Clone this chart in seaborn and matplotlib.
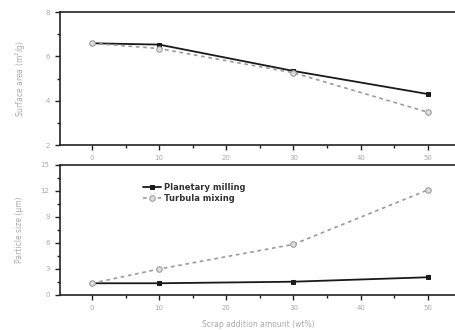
import matplotlib
matplotlib.use("Agg")
import matplotlib.pyplot as plt
import seaborn as sns
import pandas as pd
from matplotlib.ticker import MultipleLocator

sns.set_style("white")
plt.rcParams['font.family'] = ['DejaVu Sans']

scrap = [0, 10, 30, 50]
area_planetary = [6.59, 6.53, 5.34, 4.30]
area_turbula = [6.59, 6.35, 5.26, 3.48]
size_planetary = [1.35, 1.35, 1.53, 2.04]
size_turbula = [1.35, 2.99, 5.83, 12.09]
labels = ["Planetary milling", "Turbula mixing"]

fig = plt.figure(figsize=(4.56, 3.30), dpi=100)
ax1 = fig.add_axes([0.1316, 0.5606, 0.8684, 0.403])
ax2 = fig.add_axes([0.1316, 0.1061, 0.8684, 0.3948])

light = "#aaaaaa"

def draw(ax, yp, yt):
    sns.lineplot(x=scrap, y=yp, ax=ax, color="#1a1a1a", marker="s", markersize=3.5,
                 linewidth=1.3, markeredgecolor="#1a1a1a", label=labels[0])
    sns.lineplot(x=scrap, y=yt, ax=ax, color="#9a9a9a", marker="o", markersize=4,
                 linewidth=1.2, linestyle=(0, (2.2, 2.2)), markerfacecolor="#dddddd",
                 markeredgecolor="#9a9a9a", label=labels[1])
    ax.set_xlim(-4.76, 54.2)
    ax.xaxis.set_major_locator(MultipleLocator(10))
    ax.xaxis.set_minor_locator(MultipleLocator(5))
    ax.spines["right"].set_visible(False)
    for s in ["left", "bottom", "top"]:
        ax.spines[s].set_color("#222222")
        ax.spines[s].set_linewidth(1.2)
    ax.tick_params(which="both", direction="out", colors="#222222", labelcolor=light,
                   labelsize=5, width=1, pad=4)
    ax.tick_params(which="major", length=3.5)
    ax.tick_params(which="minor", length=2.5)
    ax.tick_params(axis="both", which="both", left=True, bottom=True)

draw(ax1, area_planetary, area_turbula)
ax1.set_ylim(2, 8)
ax1.yaxis.set_major_locator(MultipleLocator(2))
ax1.yaxis.set_minor_locator(MultipleLocator(1))
ax1.set_ylabel("Surface area (m$^2$/g)", fontsize=5.5, color=light, labelpad=12)
ax1.get_legend().remove()

draw(ax2, size_planetary, size_turbula)
ax2.set_ylim(0, 15)
ax2.yaxis.set_major_locator(MultipleLocator(3))
ax2.yaxis.set_minor_locator(MultipleLocator(1.5))
ax2.set_ylabel("Particle size (\u03bcm)", fontsize=5.5, color=light, labelpad=12)
ax2.set_xlabel("Scrap addition amount (wt%)", fontsize=5.5, color=light, labelpad=6)
leg = ax2.legend(loc="upper left", bbox_to_anchor=(0.19, 0.92), frameon=False,
                 fontsize=6, handlelength=2.2, handletextpad=0.4, labelspacing=0.3)
for t in leg.get_texts():
    t.set_color("#333333")
    t.set_fontweight("bold")

fig.savefig("out.png", dpi=100)
